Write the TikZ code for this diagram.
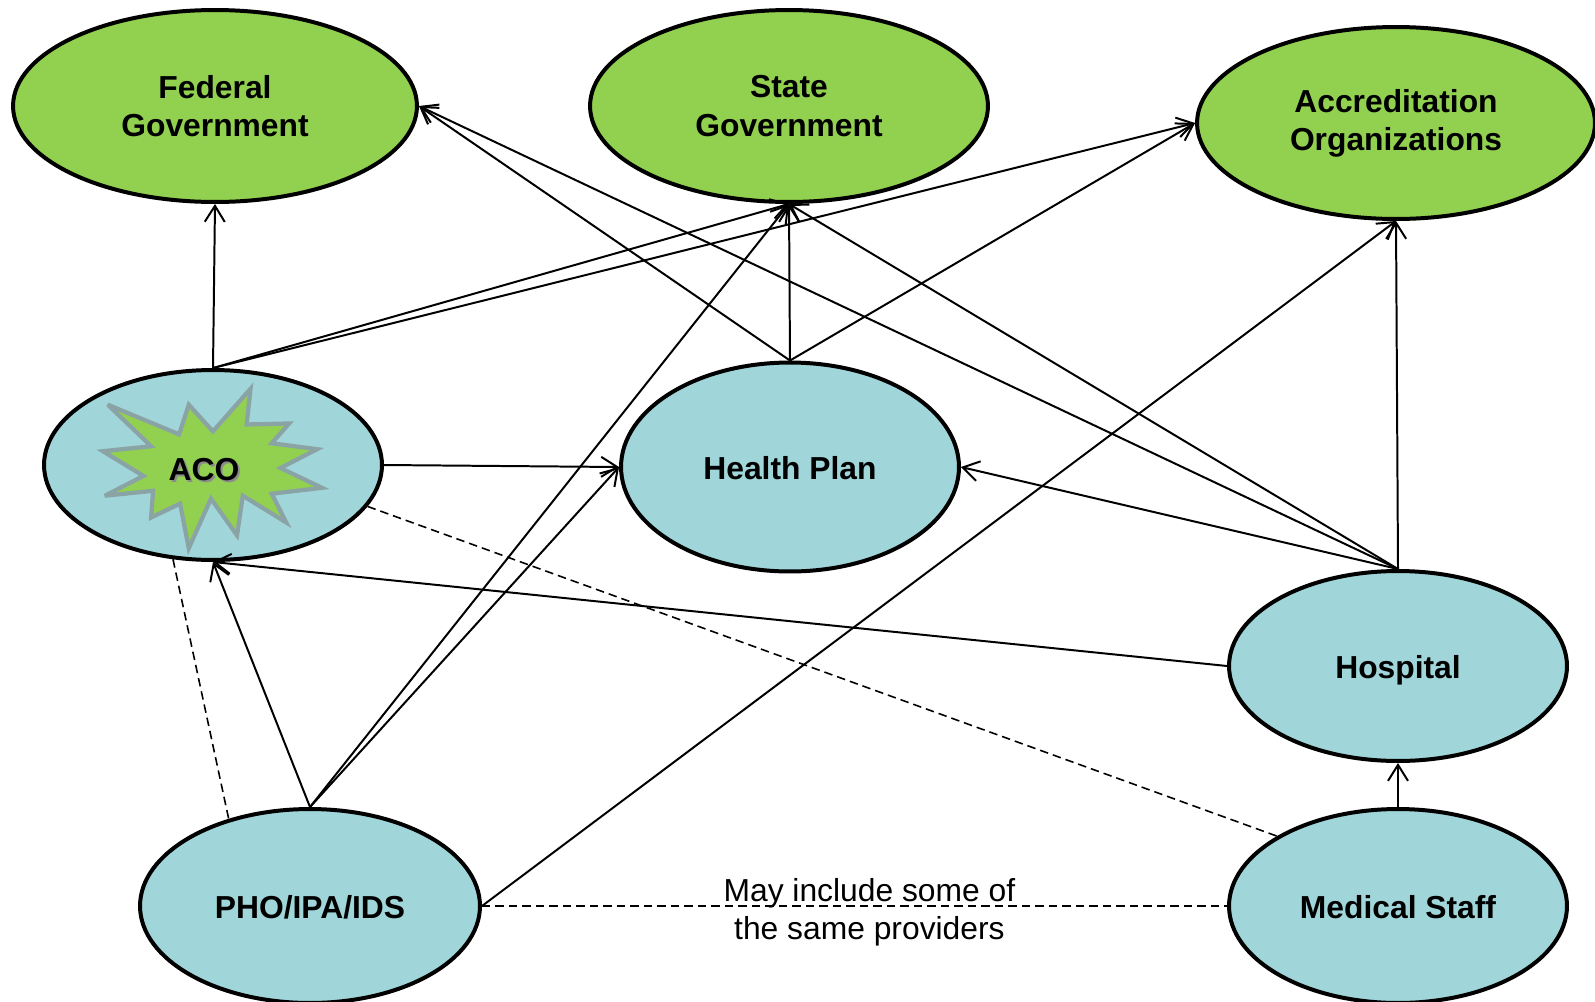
\documentclass[tikz,border=0pt]{standalone}
\usepackage{fontspec}
\setmainfont{Liberation Sans}
\usetikzlibrary{shapes.geometric,arrows.meta}
\definecolor{govgreen}{RGB}{146,208,80}
\definecolor{orgblue}{RGB}{160,213,217}
\definecolor{stargray}{RGB}{138,164,166}
\begin{document}
\begin{tikzpicture}[x=0.02cm,y=-0.02cm,
  ell/.style={ellipse, draw=black, line width=2.27pt, inner sep=0pt, align=center,
    font=\fontsize{18.1}{21.8}\selectfont\bfseries},
  gov/.style={ell, fill=govgreen, minimum width=7.96cm, minimum height=3.84cm},
  org/.style={ell, fill=orgblue, minimum width=6.76cm, text height=14.5pt, text depth=0pt},
  conn/.style={line width=1.13pt, -{Straight Barb[length=0.32cm,width=0.4cm]}},
  dashconn/.style={line width=0.9pt, dash pattern=on 0.17cm off 0.1cm},
  lbl/.style={align=center, font=\fontsize{18.1}{21.8}\selectfont},
]
\useasboundingbox (0,0) rectangle (1595,1001);
% top row
\node[gov, minimum width=8.08cm] (fed) at (215,106) {Federal\\Government};
\node[gov] (state) at (789,106) {State\\Government};
\node[gov] (accr) at (1396,123) {Accreditation\\Organizations};
% middle and bottom
\node[org, minimum height=3.8cm] (aco) at (213,465) {};
\node[org, minimum height=4.18cm] (hp) at (790,467) {Health Plan};
\node[org, minimum height=3.8cm] (hosp) at (1398,666) {Hospital};
\node[org, minimum height=3.88cm] (med) at (1398,906) {Medical Staff};
\node[org, minimum width=6.8cm, minimum height=3.88cm] (pho) at (310,906) {PHO/IPA/IDS};
% star inside ACO
\begin{scope}[shift={(210,469)}, xscale=0.965, yscale=0.99, shift={(-209,-468)}]
\draw[fill=govgreen, draw=stargray, line width=2.4pt, line join=miter, miter limit=4]
  (103,403) -- (177,433) -- (187,403) -- (212,430) -- (251,387) -- (247,423)
  -- (291,422) -- (273,442) -- (320,448) -- (282,467) -- (325,487) -- (273,493)
  -- (288,522) -- (243,495) -- (237,535) -- (210,498) -- (187,548) -- (178,503)
  -- (148,517) -- (150,490) -- (100,495) -- (140,475) -- (98,450) -- (148,445) -- cycle;
\end{scope}
\node[font=\fontsize{18.1}{21.8}\selectfont\bfseries, text=black!45] (acoshadow) at (206,472) {ACO};
\node[font=\fontsize{18.1}{21.8}\selectfont\bfseries] (acotext) at (204,470) {ACO};
% connectors
\draw[conn] (aco.north) -- (fed.south);
\draw[conn] (aco.north) -- (state.south);
\draw[conn] (aco.north) -- (accr.west);
\draw[conn] (hp.north) -- (fed.east);
\draw[conn] (hp.north) -- (state.south);
\draw[conn] (hp.north) -- (accr.west);
\draw[conn] (hosp.north) -- (fed.east);
\draw[conn] (hosp.north) -- (state.south);
\draw[conn] (hosp.north) -- (accr.south);
\draw[conn] (hosp.north) -- (hp.east);
\draw[conn] (aco.east) -- (hp.west);
\draw[conn] (hosp.west) -- (aco.south);
\draw[conn] (pho.north) -- (aco.south);
\draw[conn] (pho.north) -- (state.south);
\draw[conn] (pho.north) -- (hp.west);
\draw[conn] (pho.east) -- (accr.south);
\draw[conn] (med.north) -- (hosp.south);
% dashed relations
\draw[dashconn] (pho.east) -- node[lbl, pos=0.52, yshift=-0.12cm] (note) {May include some of\\the same providers} (med.west);
\draw[dashconn] (aco.247) -- (pho.133);
\draw[dashconn] (aco.-15) -- (med.150);
\end{tikzpicture}
\end{document}
